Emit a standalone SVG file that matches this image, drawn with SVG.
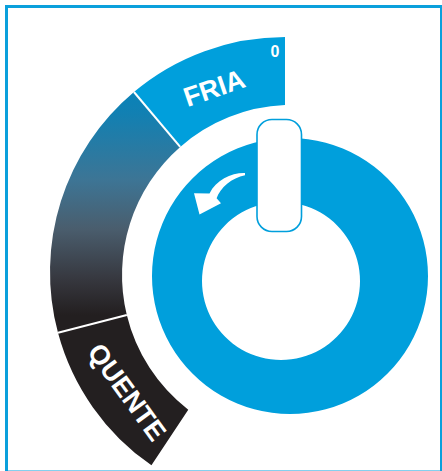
<svg xmlns="http://www.w3.org/2000/svg" width="442" height="471" viewBox="0 0 442 471">
  <style>
    .blue { fill: #009fdc; }
    .dark { fill: #231f20; }
    .lbl { font-family: "Liberation Sans", Arial, sans-serif; font-weight: bold; fill: #ffffff; text-anchor: middle; }
    .div { stroke: #ffffff; stroke-width: 2; }
  </style>
  <defs>
    <linearGradient id="grad" gradientUnits="userSpaceOnUse" x1="0" y1="92" x2="0" y2="333">
      <stop offset="0" stop-color="#0a82b8"/>
      <stop offset="0.09" stop-color="#1280b2"/>
      <stop offset="0.365" stop-color="#3d7595"/>
      <stop offset="0.57" stop-color="#4a5d6d"/>
      <stop offset="0.78" stop-color="#36373e"/>
      <stop offset="0.925" stop-color="#231f20"/>
      <stop offset="1" stop-color="#231f20"/>
    </linearGradient>
  </defs>

  <rect id="frame" x="6.5" y="6.5" width="435" height="465.5" fill="#ffffff" stroke="#0aa0dc" stroke-width="3"/>

  <g id="scale">
    <g id="fria">
      <path class="blue" d="M285,37 A235,235 0 0 0 133.94,91.99 L180.2,146.9 A170,170 0 0 1 285,105.1 Z"/>
      <text class="lbl" font-size="27" transform="translate(214,87.5) rotate(-19)" y="9.8">FRIA</text>
      <text class="lbl" font-size="16" x="275" y="57">0</text>
    </g>
    <g id="gradient-band">
      <path fill="url(#grad)" d="M133.94,91.99 A235,235 0 0 0 58.01,332.82 L126.8,315 A170,170 0 0 1 180.2,146.9 Z"/>
    </g>
    <g id="quente">
      <path class="dark" d="M58.01,332.82 A235,235 0 0 0 151.45,465.37 L188.25,409.7 A170,170 0 0 1 126.8,315 Z"/>
      <text class="lbl" font-size="27" transform="translate(127.5,391.7) rotate(54)" y="9.8">QUENTE</text>
    </g>
    <line class="div" x1="133.94" y1="91.99" x2="180.2" y2="146.9"/>
    <line class="div" x1="58.01" y1="332.82" x2="126.8" y2="315"/>
  </g>

  <g id="knob">
    <path class="blue" fill-rule="evenodd" d="M290,138 A138,138 0 1 1 289.99,138 Z M281,202 A79,79 0 1 0 281.01,202 Z"/>
    <rect id="handle" x="257" y="119.5" width="44.5" height="112" rx="15" ry="15" fill="#ffffff" stroke="#009fdc" stroke-width="1.6"/>
  </g>

  <g id="connectors">
    <path id="arrow" fill="#ffffff" d="M245,173 C232,172.5 216,180 209.5,193.4 L194,193.3 L199.5,214.5 L221,203.3 L216.6,198.3 C220,188 232,177.5 245,175.2 Z"/>
  </g>
</svg>
